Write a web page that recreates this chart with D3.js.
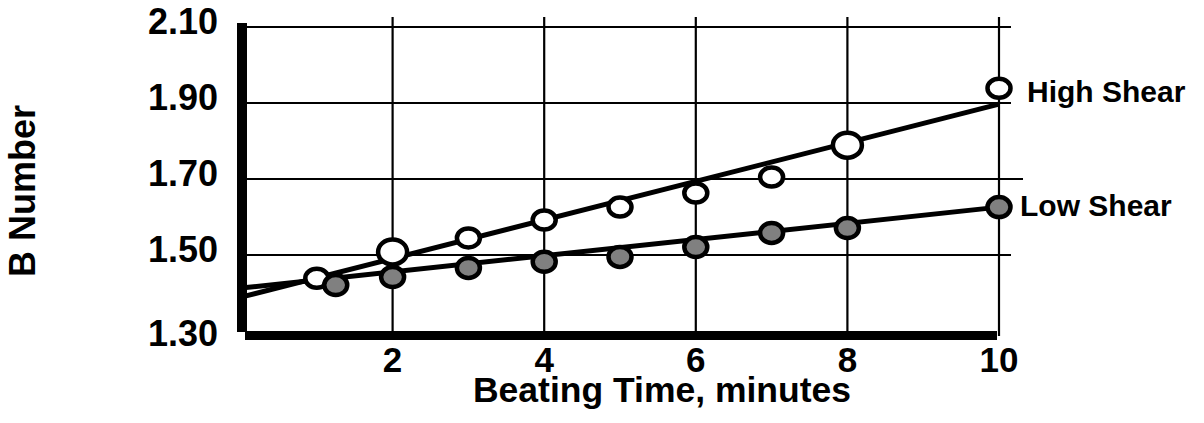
<!DOCTYPE html>
<html>
<head>
<meta charset="utf-8">
<script src="https://cdn.jsdelivr.net/npm/d3@7"></script>
<style>
    body { margin: 0; background: #fff; }
    svg { display: block; }
    text { font-family: Arial, "Liberation Sans", sans-serif; font-weight: bold; fill: #000; }
</style>
</head>
<body>
<svg id="chart" width="1204" height="423"></svg>
<script>
// data
const highTime = [1, 2, 3, 4, 5, 6, 7, 8, 10];
const highB = [1.439, 1.508, 1.545, 1.592, 1.626, 1.663, 1.705, 1.789, 1.939];
const lowTime = [1.25, 2, 3, 4, 5, 6, 7, 8, 10];
const lowB = [1.421, 1.442, 1.466, 1.482, 1.495, 1.521, 1.558, 1.571, 1.626];
// fitted straight lines (start, end)
const highFitTime = [0, 10];
const highFitB = [1.389, 1.897];
const lowFitTime = [0, 10];
const lowFitB = [1.413, 1.626];

const xTicks = [2, 4, 6, 8, 10];
const yTicks = [1.30, 1.50, 1.70, 1.90, 2.10];
const seriesNames = ["High Shear", "Low Shear"];

const svg = d3.select("#chart");

let x = d3.scaleLinear().domain([0, 10]).range([241, 999]);
let y = d3.scaleLinear().domain([1.30, 2.10]).range([331, 27]);

// grid
let grid = svg.append("g");
grid.selectAll(".hgrid")
    .data(yTicks.filter(function (d) { return d > 1.30; }))
    .enter().append("line")
    .attr("class", "hgrid")
    .attr("x1", x(0))
    .attr("x2", function (d) { return x(10) + (d === 1.70 ? 24 : 12); })
    .attr("y1", function (d) { return y(d); })
    .attr("y2", function (d) { return y(d); })
    .attr("stroke", "#000")
    .attr("stroke-width", 2.2);

grid.selectAll(".vgrid")
    .data(xTicks)
    .enter().append("line")
    .attr("class", "vgrid")
    .attr("x1", function (d) { return x(d); })
    .attr("x2", function (d) { return x(d); })
    .attr("y1", function (d) { return y(1.30) + (d === 10 ? 5 : 2); })
    .attr("y2", y(2.10) - 10)
    .attr("stroke", "#000")
    .attr("stroke-width", 2.2);

// fit lines
let line = d3.line()
    .x(function (d) { return x(d[0]); })
    .y(function (d) { return y(d[1]); });

svg.append("path")
    .datum(d3.zip(highFitTime, highFitB))
    .attr("d", line)
    .attr("fill", "none")
    .attr("stroke", "#000")
    .attr("stroke-width", 5);

svg.append("path")
    .datum(d3.zip(lowFitTime, lowFitB))
    .attr("d", line)
    .attr("fill", "none")
    .attr("stroke", "#000")
    .attr("stroke-width", 5);

// axes bars
svg.append("rect")
    .attr("x", x(0) - 4)
    .attr("y", y(2.10) - 4)
    .attr("width", 10)
    .attr("height", y(1.30) - y(2.10) + 5);

svg.append("rect")
    .attr("x", x(0) + 4)
    .attr("y", y(1.30))
    .attr("width", x(10) - x(0) - 6)
    .attr("height", 9);

// markers
const bigHigh = new Set([2, 8]);

svg.selectAll(".high")
    .data(d3.zip(highTime, highB))
    .enter().append("ellipse")
    .attr("class", "high")
    .attr("cx", function (d) { return x(d[0]); })
    .attr("cy", function (d) { return y(d[1]); })
    .attr("rx", function (d) { return bigHigh.has(d[0]) ? 14.5 : 11.5; })
    .attr("ry", function (d) { return bigHigh.has(d[0]) ? 12.5 : 9.5; })
    .attr("fill", "#fff")
    .attr("stroke", "#000")
    .attr("stroke-width", 4.5);

svg.selectAll(".low")
    .data(d3.zip(lowTime, lowB))
    .enter().append("ellipse")
    .attr("class", "low")
    .attr("cx", function (d) { return x(d[0]); })
    .attr("cy", function (d) { return y(d[1]); })
    .attr("rx", 11.5)
    .attr("ry", 10)
    .attr("fill", "#808080")
    .attr("stroke", "#000")
    .attr("stroke-width", 4.5);

// tick labels
svg.selectAll(".ylab")
    .data(yTicks)
    .enter().append("text")
    .attr("class", "ylab")
    .attr("x", 218)
    .attr("y", function (d) { return y(d) + (d === 1.30 ? 15 : 7); })
    .attr("text-anchor", "end")
    .style("font-size", "36px")
    .text(function (d) { return d.toFixed(2); });

svg.selectAll(".xlab")
    .data(xTicks)
    .enter().append("text")
    .attr("class", "xlab")
    .attr("x", function (d) { return x(d); })
    .attr("y", 372)
    .attr("text-anchor", "middle")
    .style("font-size", "35px")
    .text(function (d) { return d; });

// axis titles
svg.append("text")
    .attr("x", 662)
    .attr("y", 402)
    .attr("text-anchor", "middle")
    .style("font-size", "35.5px")
    .text("Beating Time, minutes");

svg.append("text")
    .attr("transform", "translate(35,191) rotate(-90)")
    .attr("text-anchor", "middle")
    .style("font-size", "36px")
    .text("B Number");

// series labels next to the last point
svg.append("text")
    .attr("x", x(10) + 28)
    .attr("y", y(highB[highB.length - 1]) + 14)
    .style("font-size", "30px")
    .text(seriesNames[0]);

svg.append("text")
    .attr("x", x(10) + 21)
    .attr("y", y(lowB[lowB.length - 1]) + 9)
    .style("font-size", "30px")
    .text(seriesNames[1]);
</script>
</body>
</html>
